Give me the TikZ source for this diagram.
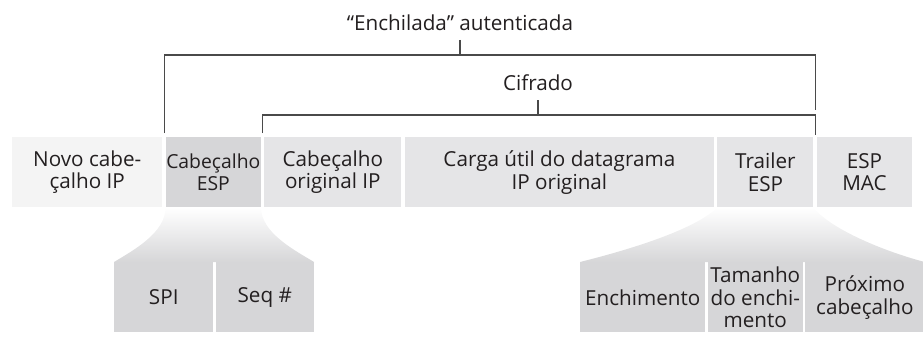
\documentclass[tikz,border=0pt]{standalone}
\usepackage{fontspec}
\setmainfont{Open Sans}
\usepackage{xcolor}
\usepackage{tikz}
\usetikzlibrary{positioning, calc}
\definecolor{cText}{HTML}{231F20}
\definecolor{cPale}{HTML}{F4F4F4}
\definecolor{cLight}{HTML}{E5E5E7}
\definecolor{cDark}{HTML}{D6D6D8}
\definecolor{cLine}{HTML}{4A4A4A}

\begin{document}
\begin{tikzpicture}[
    x=0.75pt, y=0.75pt,
    node distance=2.25pt,
    every node/.style={font=\fontsize{15.5}{17}\selectfont, text=cText},
    seg/.style={fill=#1, inner sep=0pt, minimum height=52.5pt, align=center},
    brk/.style={draw=cLine, line width=0.8pt},
    lbl/.style={anchor=south, inner xsep=0pt, inner ysep=6.5pt},
  ]
  \useasboundingbox (0,0) rectangle (923,340);

  % ESP packet
  \node[seg=cPale, minimum width=112.5pt, anchor=north west] (nip) at (12,203)
    {Novo cabe-\\çalho IP};
  \node[seg=cDark,  minimum width=71.25pt,  right=of nip, font=\fontsize{14.5}{17}\selectfont]
    (esph) {Cabeçalho\\ESP};
  \node[seg=cLight, minimum width=102.75pt, right=of esph] (oiph) {Cabeçalho\\original IP};
  \node[seg=cLight, minimum width=231.75pt, right=of oiph] (load) {Carga útil do datagrama\\IP original};
  \node[seg=cLight, minimum width=72pt,     right=of load] (trl)  {Trailer\\ESP};
  \node[seg=cLight, minimum width=71.25pt,  right=of trl]  (mac)  {ESP\\MAC};

  % Header fields
  \node[seg=cDark, minimum width=74.25pt, anchor=north west] (spi) at (114,78) {SPI};
  \node[seg=cDark, minimum width=73.5pt, right=1.5pt of spi] (seq) {Seq \#};

  % Trailer fields
  \node[seg=cDark, minimum width=93.75pt, anchor=north west] (pad) at (580,78) {Enchimento};
  \node[seg=cDark, minimum width=71.25pt, right=1.5pt of pad]    (padlen) {Tamanho\\do enchi-\\mento};
  \node[seg=cDark, minimum width=89.25pt, right=1.5pt of padlen] (nxt)    {Próximo\\cabeçalho};

  % Funnels
  \shade[top color=white, bottom color=cDark]
    (esph.south west) .. controls +(0,-25) and +(20,12) .. (spi.north west)
    -- (seq.north east) .. controls +(-20,12) and +(0,-25) .. (esph.south east) -- cycle;
  \shade[top color=white, bottom color=cDark]
    (trl.south west) .. controls +(-20,-20) and +(60,15) .. (pad.north west)
    -- (nxt.north east) .. controls +(-45,12) and +(15,-20) .. (trl.south east) -- cycle;

  % Brackets
  \coordinate (encL) at ($(nip.north east)!.5!(esph.north west)+(0,4)$);
  \coordinate (encR) at ($(trl.north east)!.5!(mac.north west)+(0,27)$);
  \coordinate (cifL) at ($(esph.north east)!.5!(oiph.north west)+(0,4)$);
  \coordinate (cifR) at ($(trl.north east)!.5!(mac.north west)+(0,2)$);

  \node[lbl] (auth) at (460,300) {“Enchilada” autenticada};
  \draw[brk] (auth.south) -- ++(0,-15) coordinate (authBar);
  \draw[brk] (encL) |- (encR |- authBar) -- (encR);

  \node[lbl] (cif) at (538,240) {Cifrado};
  \draw[brk] (cif.south) -- ++(0,-15) coordinate (cifBar);
  \draw[brk] (cifL) |- (cifR |- cifBar) -- (cifR);
\end{tikzpicture}
\end{document}
